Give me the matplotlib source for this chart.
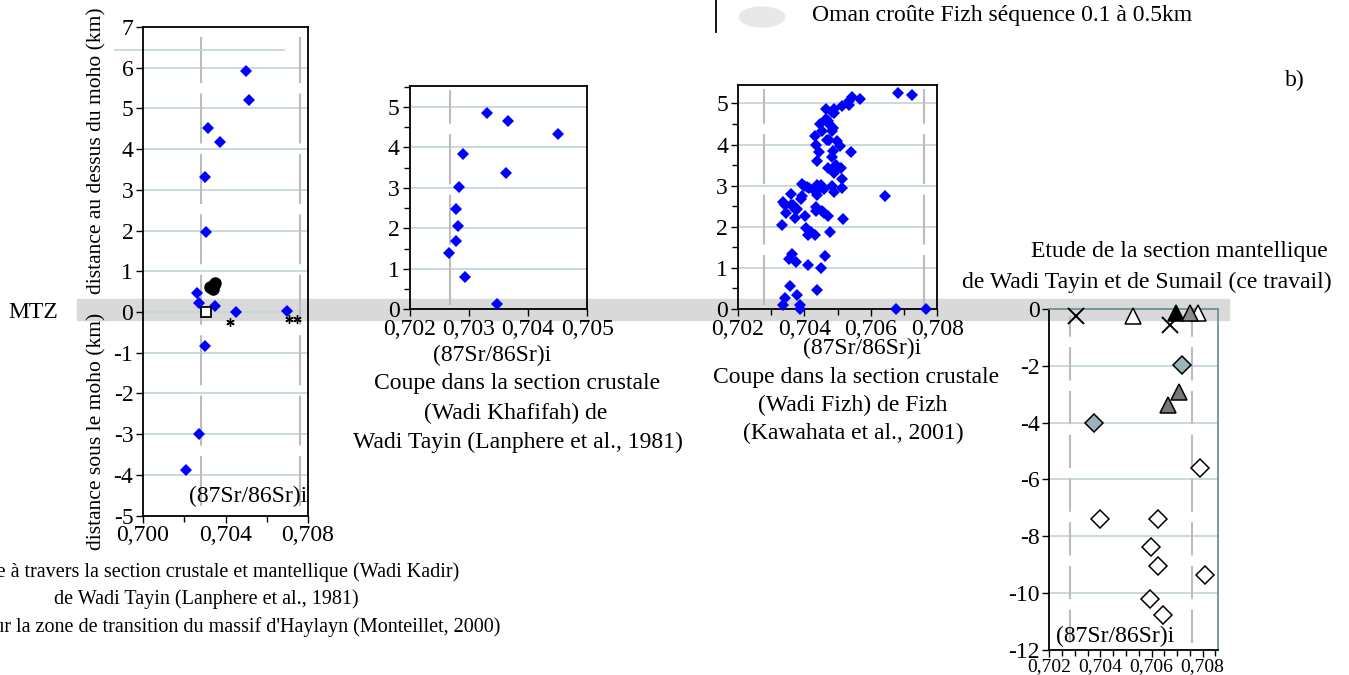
import matplotlib.pyplot as plt
from matplotlib.patches import Rectangle, Ellipse
from matplotlib.lines import Line2D
from matplotlib.ticker import MultipleLocator, FuncFormatter

plt.rcParams['font.family'] = ['Liberation Serif', 'DejaVu Serif']
plt.rcParams['font.size'] = 17
plt.rcParams['axes.unicode_minus'] = False

W, H = 1349, 675

# Wadi Kadir, Wadi Tayin (Lanphere et al., 1981)
kadir_sr = [0.70498, 0.70516, 0.70317, 0.70374, 0.70302, 0.70304, 0.70262, 0.70272,
            0.70350, 0.70453, 0.70698, 0.70300, 0.70270, 0.70209]
kadir_h = [5.92, 5.21, 4.52, 4.17, 3.32, 1.97, 0.46, 0.23, 0.15, -0.01, 0.03,
           -0.84, -3.00, -3.89]
# zone de transition d'Haylayn (Monteillet, 2000)
hay_dot_sr = [0.70325, 0.70350, 0.70338, 0.70345]
hay_dot_h = [0.62, 0.72, 0.57, 0.65]
hay_sq_sr = [0.70306]
hay_sq_h = [0.0]
hay_star_sr = [0.70422, 0.70710, 0.70746]
hay_star_h = [-0.25, -0.17, -0.17]

# Wadi Khafifah (Lanphere et al., 1981)
khaf_sr = [0.70331, 0.70366, 0.70450, 0.70290, 0.70363, 0.70283, 0.70278, 0.70281,
           0.70278, 0.70267, 0.70293, 0.70348]
khaf_h = [4.85, 4.65, 4.34, 3.85, 3.36, 3.03, 2.47, 2.06, 1.69, 1.39, 0.80, 0.14]

# Wadi Fizh (Kawahata et al., 2001)
fizh_sr = [0.70681, 0.70724, 0.70545, 0.70569, 0.70536, 0.70534, 0.70513, 0.70466,
           0.70488, 0.70483, 0.70489, 0.70464, 0.70470, 0.70448, 0.70475, 0.70486,
           0.70454, 0.70482, 0.70433, 0.70469, 0.70475, 0.70499, 0.70434, 0.70507,
           0.70444, 0.70486, 0.70542, 0.70484, 0.70438, 0.70494, 0.70471, 0.70510,
           0.70490, 0.70488, 0.70514, 0.70393, 0.70400, 0.70408, 0.70415, 0.70438,
           0.70450, 0.70458, 0.70434, 0.70438, 0.70482, 0.70514, 0.70488, 0.70392,
           0.70390, 0.70643, 0.70361, 0.70336, 0.70343, 0.70360, 0.70365, 0.70375,
           0.70377, 0.70344, 0.70373, 0.70401, 0.70434, 0.70436, 0.70454, 0.70460,
           0.70472, 0.70517, 0.70333, 0.70404, 0.70411, 0.70420, 0.70433, 0.70478,
           0.70363, 0.70353, 0.70375, 0.70410, 0.70451, 0.70462, 0.70356, 0.70341,
           0.70377, 0.70437, 0.70337, 0.70387, 0.70387, 0.70676, 0.70765]
fizh_h = [5.25, 5.20, 5.17, 5.11, 5.06, 4.96, 4.93, 4.86, 4.86, 4.79, 4.76, 4.62,
          4.57, 4.51, 4.51, 4.40, 4.32, 4.32, 4.21, 4.10, 4.10, 4.09, 3.98, 3.96,
          3.82, 3.84, 3.82, 3.70, 3.59, 3.50, 3.42, 3.42, 3.39, 3.30, 3.16, 3.03,
          2.99, 2.96, 2.94, 3.01, 3.01, 2.93, 2.85, 2.78, 2.99, 2.94, 2.84, 2.74,
          2.67, 2.74, 2.80, 2.61, 2.52, 2.52, 2.53, 2.40, 2.44, 2.33, 2.21, 2.27,
          2.49, 2.38, 2.38, 2.33, 2.27, 2.19, 2.04, 1.97, 1.81, 1.87, 1.80, 1.88,
          1.35, 1.21, 1.14, 1.06, 0.99, 1.29, 0.57, 0.27, 0.34, 0.46, 0.10, 0.10,
          0.0, 0.0, 0.0]

# Wadi Tayin et Sumail (ce travail)
cross_sr = [0.70305, 0.70674]
cross_h = [-0.25, -0.56]
tri_open_sr = [0.70527, 0.70780]
tri_open_h = [-0.25, -0.15]
tri_black_sr = [0.70696]
tri_black_h = [-0.15]
tri_gray_sr = [0.70751]
tri_gray_h = [-0.15]
tri_dark_sr = [0.70709, 0.70666]
tri_dark_h = [-2.91, -3.38]
dia_gray_sr = [0.70718, 0.70376]
dia_gray_h = [-1.97, -4.00]
dia_open_sr = [0.70789, 0.70399, 0.70626, 0.70596, 0.70626, 0.70810, 0.70593, 0.70644]
dia_open_h = [-5.6, -7.38, -7.38, -8.37, -9.05, -9.37, -10.2, -10.77]

ref_lines = [0.7028, 0.7076]

comma = FuncFormatter(lambda v, p: ('%.3f' % v).replace('.', ','))
grid_col = '#c6d5de'
dash_col = '#bcbcbc'
blue = '#0000ff'


def box(x0, y0, x1, y1):
    # pixel box -> figure fraction
    return [x0 / W, 1 - y1 / H, (x1 - x0) / W, (y1 - y0) / H]


def px(x, y):
    return x / W, 1 - y / H


fig = plt.figure(figsize=(W / 100, H / 100), dpi=100)

# bande MTZ
fig.patches.append(Rectangle(px(77, 320), (1229 - 77) / W, 21 / H, transform=fig.transFigure,
                             color='#d9d9d9', zorder=-1))


def setup(ax):
    ax.set_facecolor('none')
    ax.tick_params(direction='out', length=5, width=1, pad=2)
    ax.tick_params(which='minor', direction='out', length=4, width=1)
    ax.yaxis.grid(True, color=grid_col, lw=1.3)
    ax.set_axisbelow(True)
    ax.xaxis.set_major_formatter(comma)
    for s in ax.spines.values():
        s.set_linewidth(1.3)


# Wadi Kadir
ax1 = fig.add_axes(box(143, 27, 308, 515.5))
setup(ax1)
ax1.set_xlim(0.700, 0.708)
ax1.set_ylim(-5, 7)
ax1.xaxis.set_major_locator(MultipleLocator(0.004))
ax1.xaxis.set_minor_locator(MultipleLocator(0.002))
ax1.yaxis.set_major_locator(MultipleLocator(1))
for x in ref_lines:
    ax1.axvline(x, ymin=0.02, ymax=0.98, color=dash_col, lw=1.5, ls=(0, (24, 5)), zorder=1)
ax1.add_line(Line2D([0.69864, 0.70684], [6.44, 6.44], color=grid_col, lw=1.3, clip_on=False))
ax1.plot(kadir_sr, kadir_h, 'D', color=blue, ms=6.5, mew=0, zorder=3)
ax1.plot(hay_dot_sr, hay_dot_h, 'o', color='black', ms=8, zorder=3)
ax1.plot(hay_sq_sr, hay_sq_h, 's', mfc='white', mec='black', ms=7, mew=1.3, zorder=3)
ax1.plot(hay_star_sr, hay_star_h, marker=(6, 2, 0), ls='none', color='black', ms=6, mew=1, zorder=3)
ax1.text(0.996, 0.04, '(87Sr/86Sr)i', transform=ax1.transAxes, ha='right', va='center')

# Wadi Khafifah
ax2 = fig.add_axes(box(409.5, 86, 587.3, 309.3))
setup(ax2)
ax2.set_xlim(0.702, 0.705)
ax2.set_ylim(0, 5.52)
ax2.xaxis.set_major_locator(MultipleLocator(0.001))
ax2.yaxis.set_major_locator(MultipleLocator(1))
ax2.yaxis.set_minor_locator(MultipleLocator(0.5))
ax2.axvline(0.70268, ymin=0.02, ymax=0.98, color=dash_col, lw=1.5, ls=(0, (24, 5)), zorder=1)
ax2.plot(khaf_sr, khaf_h, 'D', color=blue, ms=6, mew=0, zorder=3, clip_on=False)

# Wadi Fizh
ax3 = fig.add_axes(box(737.7, 85, 937.3, 309))
setup(ax3)
ax3.set_xlim(0.702, 0.708)
ax3.set_ylim(0, 5.45)
ax3.xaxis.set_major_locator(MultipleLocator(0.002))
ax3.xaxis.set_minor_locator(MultipleLocator(0.001))
ax3.yaxis.set_major_locator(MultipleLocator(1))
ax3.yaxis.set_minor_locator(MultipleLocator(0.5))
for x in ref_lines:
    ax3.axvline(x, ymin=0.02, ymax=0.98, color=dash_col, lw=1.5, ls=(0, (24, 5)), zorder=1)
ax3.plot(fizh_sr, fizh_h, 'D', color=blue, ms=6, mew=0, zorder=3, clip_on=False)

# Wadi Tayin / Sumail
ax4 = fig.add_axes(box(1049.3, 309, 1218, 650))
setup(ax4)
ax4.set_xlim(0.702, 0.7086)
ax4.set_ylim(-12, 0)
ax4.xaxis.set_major_locator(MultipleLocator(0.002))
ax4.xaxis.set_minor_locator(MultipleLocator(0.0005))
ax4.yaxis.set_major_locator(MultipleLocator(2))
ax4.tick_params(axis='x', labelsize=14, pad=1)
for s in ['top', 'right']:
    ax4.spines[s].set_color('#6e9099')
for x in ref_lines:
    ax4.axvline(x, ymin=0.02, ymax=0.98, color=dash_col, lw=1.5, ls=(0, (16, 5)), zorder=1)
ax4.plot(cross_sr, cross_h, 'x', color='black', ms=12, mew=1.4, zorder=3, clip_on=False)
ax4.plot(tri_open_sr, tri_open_h, '^', mfc='white', mec='black', ms=11, mew=1.1, zorder=3, clip_on=False)
ax4.plot(tri_black_sr, tri_black_h, '^', mfc='black', mec='black', ms=11, mew=1.1, zorder=3, clip_on=False)
ax4.plot(tri_gray_sr, tri_gray_h, '^', mfc='#8c8c8c', mec='black', ms=11, mew=1.1, zorder=3, clip_on=False)
ax4.plot(tri_dark_sr, tri_dark_h, '^', mfc='#777777', mec='black', ms=11, mew=1.1, zorder=3)
ax4.plot(dia_gray_sr, dia_gray_h, 'D', mfc='#9bb4ba', mec='black', ms=9, mew=1.1, zorder=3)
ax4.plot(dia_open_sr, dia_open_h, 'D', mfc='white', mec='black', ms=9, mew=1.1, zorder=3)
ax4.text(0.04, 0.04, '(87Sr/86Sr)i', transform=ax4.transAxes, ha='left', va='center')

# textes
fig.text(*px(33, 313), 'MTZ', ha='center', va='center')
fig.text(*px(97, 151), 'distance au dessus du moho (km)', rotation=90, ha='center', va='center',
         fontsize=15.5)
fig.text(*px(97, 431), 'distance sous le moho (km)', rotation=90, ha='center', va='center',
         fontsize=15.5)

fig.text(*px(206, 572), 'Coupe à travers la section crustale et mantellique (Wadi Kadir)',
         ha='center', va='center', fontsize=14.5)
fig.text(*px(206, 599), 'de Wadi Tayin (Lanphere et al., 1981)', ha='center', va='center', fontsize=14.5)
fig.text(*px(206, 627), "Données sur la zone de transition du massif d'Haylayn (Monteillet, 2000)",
         ha='center', va='center', fontsize=14.5)

fig.text(*px(492, 355), '(87Sr/86Sr)i', ha='center', va='center')
fig.text(*px(517, 384), 'Coupe dans la section crustale', ha='center', va='center')
fig.text(*px(516, 413), '(Wadi Khafifah) de', ha='center', va='center')
fig.text(*px(518, 442), 'Wadi Tayin (Lanphere et al., 1981)', ha='center', va='center')

fig.text(*px(862, 348), '(87Sr/86Sr)i', ha='center', va='center')
fig.text(*px(856, 377), 'Coupe dans la section crustale', ha='center', va='center')
fig.text(*px(853, 405), '(Wadi Fizh) de Fizh', ha='center', va='center')
fig.text(*px(853, 433), '(Kawahata et al., 2001)', ha='center', va='center')

fig.text(*px(1179, 252), 'Etude de la section mantellique', ha='center', va='center')
fig.text(*px(1147, 282), 'de Wadi Tayin et de Sumail (ce travail)', ha='center', va='center')

fig.text(*px(1295, 80), 'b)', ha='center', va='center')

# légende
fig.add_artist(Line2D([716 / W, 716 / W], [1, 1 - 32 / H], color='black', lw=1.3))
fig.add_artist(Ellipse(px(762, 17), 45 / W, 20 / H, transform=fig.transFigure, color='#e8e8e8'))
fig.text(*px(812, 16), 'Oman croûte Fizh séquence 0.1 à 0.5km', ha='left', va='center')

fig.savefig('out.png', dpi=100)
